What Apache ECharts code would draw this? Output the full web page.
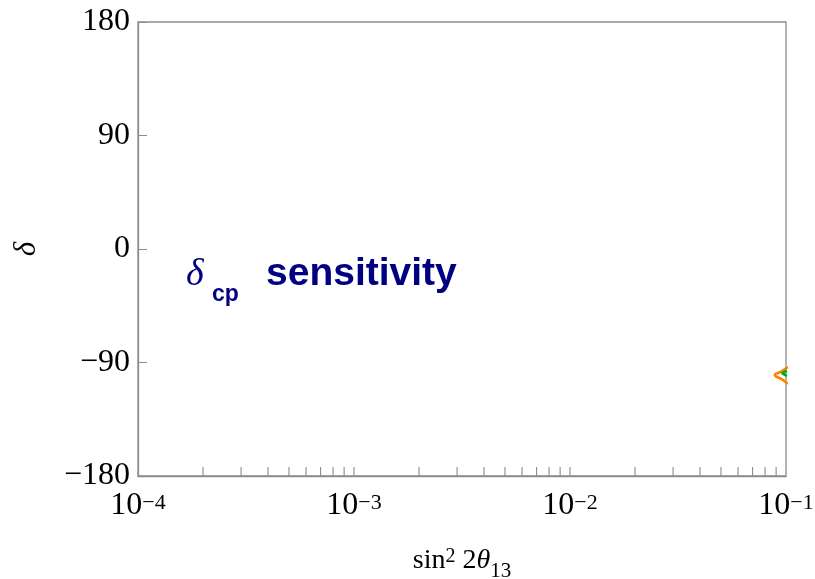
<!DOCTYPE html>
<html><head><meta charset="utf-8">
<script src="https://cdn.jsdelivr.net/npm/echarts@6/dist/echarts.min.js"></script>
<style>html,body{margin:0;padding:0;background:#fff}#c{width:815px;height:579px}</style>
</head><body><div id="c"></div>
<script>
// data
const xTickValues = [1e-4, 1e-3, 1e-2, 1e-1];
const xTickExponents = ['−4', '−3', '−2', '−1'];
const minorTickValues = [2e-4,3e-4,4e-4,5e-4,6e-4,7e-4,8e-4,9e-4,1e-3,2e-3,3e-3,4e-3,5e-3,6e-3,7e-3,8e-3,9e-3,1e-2,2e-2,3e-2,4e-2,5e-2,6e-2,7e-2,8e-2,9e-2];
const yTicks = [-180, -90, 0, 90, 180];
const orangeX = [0.102, 0.0955, 0.0887, 0.0955, 0.102];
const orangeY = [-93.6, -97, -100, -103.2, -107];
const greenX = [0.101, 0.0985, 0.0962, 0.0985, 0.101];
const greenY = [-96.6, -97.5, -98.4, -99.6, -100.6];

const serif = '"Liberation Serif","Times New Roman",serif';
const sans = '"Liberation Sans",Arial,sans-serif';
const chart = echarts.init(document.getElementById('c'));
chart.setOption({
  animation: false,
  grid: { left: 138, right: 29, top: 22, bottom: 103, containLabel: false, outerBoundsMode: 'none', show: true, borderColor: '#8c8c8c', borderWidth: 1.3 },
  xAxis: {
    type: 'log', logBase: 10, min: 1e-4, max: 1e-1,
    axisLine: { onZero: false, lineStyle: { color: '#8c8c8c', width: 1.3 } },
    axisTick: { show: false },
    splitLine: { show: false },
    axisLabel: {
      margin: 16,
      formatter: v => {
        const e = Math.round(Math.log10(v));
        const idx = xTickValues.findIndex(t => Math.abs(Math.log10(t) - e) < 1e-6);
        const s = idx >= 0 ? xTickExponents[idx] : String(e);
        return '{b|10}{e|' + s + '}';
      },
      rich: {
        b: { fontFamily: serif, fontSize: 32, color: '#000', verticalAlign: 'bottom', lineHeight: 30 },
        e: { fontFamily: serif, fontSize: 22, color: '#000', verticalAlign: 'top', lineHeight: 30, padding: [0,0,14,0] }
      }
    },
    name: '{a|sin}{s|2}{a| 2}{t|θ}{u|13}',
    nameLocation: 'middle', nameGap: 71,
    nameTextStyle: {
      rich: {
        a: { fontFamily: serif, fontSize: 28, color: '#000', verticalAlign: 'bottom', lineHeight: 28 },
        s: { fontFamily: serif, fontSize: 20, color: '#000', verticalAlign: 'top', lineHeight: 28, padding: [0,0,12,0] },
        t: { fontFamily: serif, fontSize: 28, fontStyle: 'italic', color: '#000', verticalAlign: 'bottom', lineHeight: 28 },
        u: { fontFamily: serif, fontSize: 21, color: '#000', verticalAlign: 'bottom', lineHeight: 28, padding: [0,0,-7,0] }
      }
    }
  },
  yAxis: {
    type: 'value', min: -180, max: 180, interval: 90,
    axisLine: { show: true, lineStyle: { color: '#8c8c8c', width: 1.3 } },
    axisTick: { show: true, inside: true, length: 9, lineStyle: { color: '#8c8c8c' } },
    splitLine: { show: false },
    axisLabel: { margin: 8, fontFamily: serif, fontSize: 32, color: '#000', formatter: v => (v < 0 ? '−' + (-v) : '' + v) },
    name: 'δ', nameLocation: 'middle', nameGap: 96, nameRotate: 90,
    nameTextStyle: { fontFamily: serif, fontStyle: 'italic', fontSize: 31, color: '#000' }
  },
  graphic: [
    { type: 'text', left: 186, top: 256, style: { text: 'δ', font: 'italic 38px ' + serif, fill: '#000080' } },
    { type: 'text', left: 212, top: 283, style: { text: 'cp', font: 'bold 23px ' + sans, fill: '#000080' } },
    { type: 'text', left: 266, top: 255, style: { text: 'sensitivity', font: 'bold 39px ' + sans, fill: '#000080' } }
  ],
  series: [
    {
      type: 'custom', silent: true, clip: true,
      data: minorTickValues.map(v => [v, -180]),
      renderItem: (params, api) => {
        const p = api.coord([api.value(0), api.value(1)]);
        return { type: 'line', shape: { x1: p[0], y1: p[1], x2: p[0], y2: p[1] - 9 }, style: { stroke: '#8c8c8c', lineWidth: 1.1 } };
      }
    },
    {
      type: 'line', data: orangeX.map((x, i) => [x, orangeY[i]]), showSymbol: false, smooth: true, clip: true,
      lineStyle: { color: '#ff8000', width: 2.5 }
    },
    {
      type: 'line', data: greenX.map((x, i) => [x, greenY[i]]), showSymbol: false, smooth: true, clip: true,
      lineStyle: { color: '#00b000', width: 2.5 }
    }
  ]
});
</script></body></html>
